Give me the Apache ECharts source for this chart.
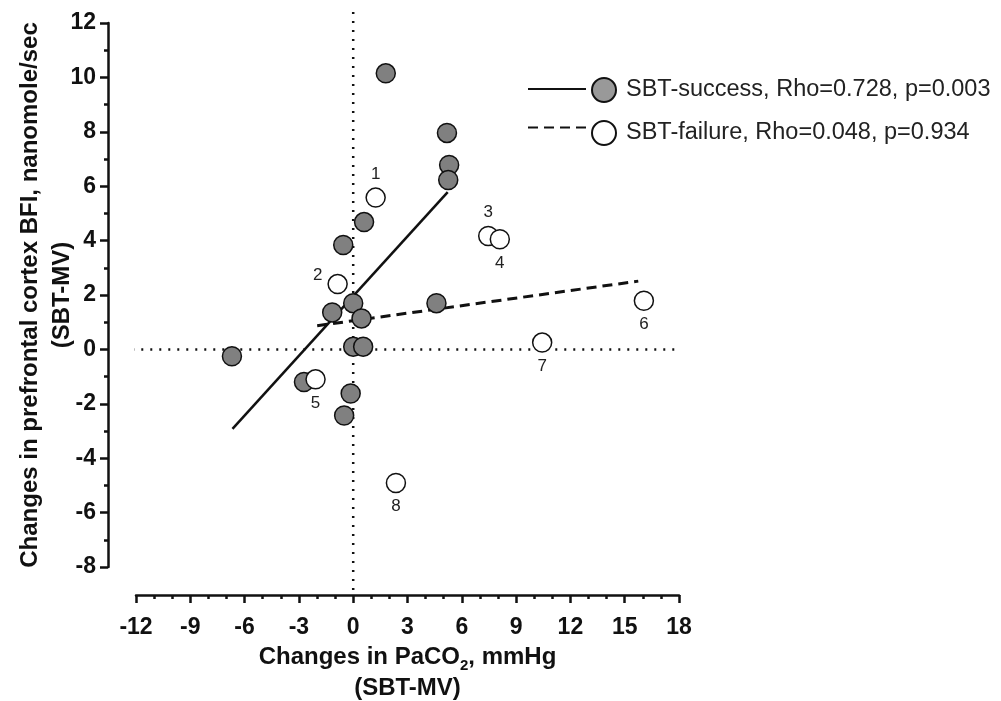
<!DOCTYPE html>
<html>
<head>
<meta charset="utf-8">
<script src="https://cdn.jsdelivr.net/npm/echarts@6/dist/echarts.min.js"></script>
<style>
  html, body { margin: 0; padding: 0; background: #fff; }
  #chart { width: 1001px; height: 701px; }
</style>
</head>
<body>
<div id="chart"></div>
<script>
/* ── data ── */
const successX = [-6.7, 1.8, 5.18, 5.3, 5.25, 0.6, -0.55, 0.0, -1.16, 0.46, 4.6, 0.0, 0.55, -2.72, -0.14, -0.5];
const successY = [-0.25, 10.15, 7.96, 6.78, 6.23, 4.68, 3.84, 1.7, 1.36, 1.14, 1.7, 0.1, 0.1, -1.2, -1.62, -2.43];

const failureX = [1.24, -0.86, 7.46, 8.1, -2.08, 16.06, 10.44, 2.36];
const failureY = [5.58, 2.4, 4.17, 4.05, -1.1, 1.79, 0.25, -4.91];
const failureIds = ['1', '2', '3', '4', '5', '6', '7', '8'];

// regression lines (end points)
const successFitX = [-6.67, 5.22];
const successFitY = [-2.92, 5.78];
const failureFitX = [-1.99, 15.75];
const failureFitY = [0.87, 2.51];

// zero reference lines
const zeroLineX = [-13.2, 18];
const zeroLineY = [-8.85, 12.66];

const successName = 'SBT-success, Rho=0.728, p=0.003';
const failureName = 'SBT-failure, Rho=0.048, p=0.934';

/* ── label placement for numbered failure points ── */
const labelPlace = {
  '1': { position: 'top' },
  '2': { position: 'left', offset: [0, -9] },
  '3': { position: 'top' },
  '4': { position: 'bottom' },
  '5': { position: 'bottom' },
  '6': { position: 'bottom' },
  '7': { position: 'bottom' },
  '8': { position: 'bottom' },
};

const font = '"Liberation Sans", Arial, sans-serif';
const ink = '#111';

const zip = (xs, ys) => xs.map((x, i) => [x, ys[i]]);

const chart = echarts.init(document.getElementById('chart'));

chart.setOption({
  animation: false,
  backgroundColor: '#fff',
  textStyle: { fontFamily: font },
  grid: { left: 136, right: 322, top: 23, bottom: 134, containLabel: false, outerBoundsMode: 'none' },
  xAxis: {
    type: 'value', min: -12, max: 18, interval: 3, offset: 28,
    axisLine: { show: true, onZero: false, lineStyle: { color: ink, width: 2.5 } },
    axisTick: { show: true, length: 8, lineStyle: { color: ink, width: 2.5 } },
    minorTick: { show: true, splitNumber: 3, length: 4, lineStyle: { color: ink, width: 2.5 } },
    splitLine: { show: false },
    axisLabel: { fontSize: 23, fontWeight: 'bold', color: ink, margin: 21, fontFamily: font },
    name: 'Changes in PaCO{sub|2}, mmHg\n(SBT-MV)',
    nameLocation: 'middle', nameGap: 47, nameMoveOverlap: false,
    nameTextStyle: {
      fontSize: 24, fontWeight: 'bold', color: ink, lineHeight: 31, fontFamily: font,
      rich: { sub: { fontSize: 15, fontWeight: 'bold', color: ink, lineHeight: 19, verticalAlign: 'bottom', fontFamily: font } }
    },
  },
  yAxis: {
    type: 'value', min: -8, max: 12, interval: 2, offset: 28,
    axisLine: { show: true, onZero: false, lineStyle: { color: ink, width: 2.5 } },
    axisTick: { show: true, length: 8, lineStyle: { color: ink, width: 2.5 } },
    minorTick: { show: true, splitNumber: 2, length: 4, lineStyle: { color: ink, width: 2.5 } },
    splitLine: { show: false },
    axisLabel: { fontSize: 23, fontWeight: 'bold', color: ink, margin: 12, fontFamily: font },
    name: 'Changes in prefrontal cortex BFI, nanomole/sec\n(SBT-MV)',
    nameLocation: 'middle', nameGap: 30, nameMoveOverlap: false,
    nameTextStyle: { fontSize: 24, fontWeight: 'bold', color: ink, lineHeight: 32, fontFamily: font },
  },
  legend: [
    {
      // line samples
      data: [successName + ' ', failureName + ' '],
      orient: 'vertical', left: 527, top: 77, padding: 0,
      itemWidth: 58, itemHeight: 24, itemGap: 17,
      itemStyle: { opacity: 0 },
      formatter: () => '',
      selectedMode: false,
    },
    {
      // marker samples with text
      data: [
        { name: successName, itemStyle: { color: '#999' } },
        { name: failureName },
      ],
      orient: 'vertical', left: 591, top: 77, padding: 0,
      icon: 'circle', itemWidth: 24, itemHeight: 24, itemGap: 17,
      selectedMode: false,
      textStyle: { fontSize: 23.5, color: '#222', lineHeight: 24, height: 24, padding: [0, 0, 0, 5], fontFamily: font },
    },
  ],
  series: [
    // dotted zero lines
    {
      type: 'line', data: zip(zeroLineX, [0, 0]), symbol: 'none', clip: false, silent: true,
      lineStyle: { color: ink, width: 2.5, type: [2, 7] }, z: 1,
    },
    {
      type: 'line', data: zip([0, 0], zeroLineY), symbol: 'none', clip: false, silent: true,
      lineStyle: { color: ink, width: 2.5, type: [2, 7] }, z: 1,
    },
    // regression lines
    {
      name: successName + ' ', type: 'line', data: zip(successFitX, successFitY), symbol: 'none',
      itemStyle: { color: ink }, lineStyle: { color: ink, width: 2.5 }, z: 2,
    },
    {
      name: failureName + ' ', type: 'line', data: zip(failureFitX, failureFitY), symbol: 'none',
      itemStyle: { color: ink }, lineStyle: { color: ink, width: 3, type: [10, 6] }, z: 2,
    },
    // points
    {
      name: successName, type: 'scatter', symbol: 'circle', symbolSize: 19,
      data: zip(successX, successY),
      itemStyle: { color: '#808080', borderColor: '#111', borderWidth: 1.5, opacity: 1 }, z: 3,
    },
    {
      name: failureName, type: 'scatter', symbol: 'circle', symbolSize: 19,
      data: failureX.map((x, i) => ({
        value: [x, failureY[i]],
        label: Object.assign({ show: true, formatter: failureIds[i] }, labelPlace[failureIds[i]]),
      })),
      label: { fontSize: 17, color: '#222', distance: 5, fontFamily: font },
      itemStyle: { color: '#fff', borderColor: '#111', borderWidth: 1.5, opacity: 1 }, z: 4,
    },
  ],
});
</script>
</body>
</html>
